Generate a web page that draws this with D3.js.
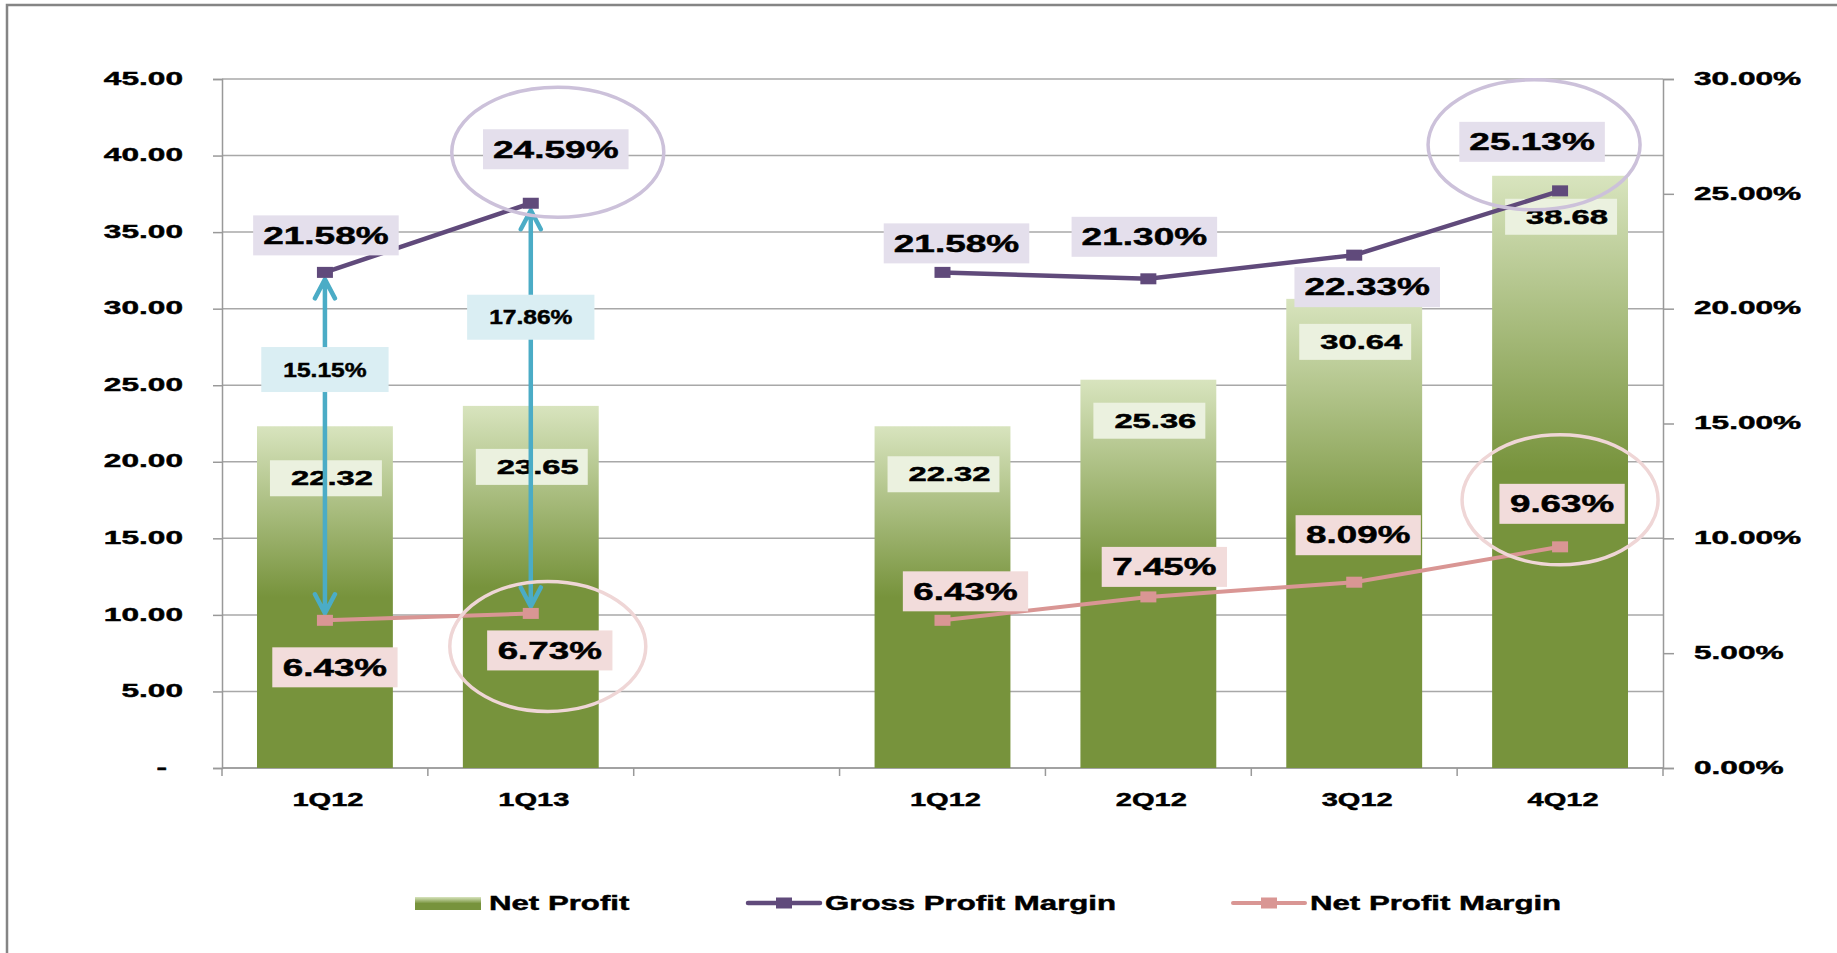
<!DOCTYPE html>
<html>
<head>
<meta charset="utf-8">
<script src="https://cdn.jsdelivr.net/npm/d3@7"></script>
<style>
body { margin: 0; background: #fff; }
text { font-family: "Liberation Sans", Arial, sans-serif; font-weight: bold; fill: #000; stroke: #000; stroke-width: 0.45px; }
</style>
</head>
<body>
<div class="canvas"></div>
<script>
// chart values
var quarters = ['1Q12', '1Q13', '', '1Q12', '2Q12', '3Q12', '4Q12'];
var netProfit = [22.32, 23.65, null, 22.32, 25.36, 30.64, 38.68];
var grossMargin = [0.2158, 0.2459, null, 0.2158, 0.2130, 0.2233, 0.2513];
var netMargin = [0.0643, 0.0673, null, 0.0643, 0.0745, 0.0809, 0.0963];
var leftTicks = [0, 5, 10, 15, 20, 25, 30, 35, 40, 45];
var rightTicks = [0, 0.05, 0.10, 0.15, 0.20, 0.25, 0.30];
var legendNames = ['Net Profit', 'Gross Profit Margin', 'Net Profit Margin'];
var circled = [1, 6];     // quarters with a ring round their labels
var arrowed = [0, 1];     // quarters with the gross-net spread arrow

// where the labels sit, relative to their point (px)
var grossNudge = [[1, -37], [25, -54], null, [14, -29], [-4, -42], [13, 32], [-28, -49]];
var netNudge = [[10, 47], [19, 37], null, [23, -29], [16, -30], [4, -47], [2, -43]];
var barNudge = [52, 61, null, 48, 41, 43, 41];

var width = 1837,
    height = 953,
    plot = { left: 222, right: 1663, top: 79, bottom: 768 };

var svg = d3.select('.canvas').append('svg')
    .attr('width', width)
    .attr('height', height);

// outer frame, only top and left show in the picture
svg.append('rect')
    .attr('x', 7).attr('y', 5)
    .attr('width', 3000).attr('height', 3000)
    .attr('fill', 'none')
    .attr('stroke', '#858585')
    .attr('stroke-width', 2.5);

var defs = svg.append('defs');
var grad = defs.append('linearGradient')
    .attr('id', 'barGrad')
    .attr('x1', 0).attr('y1', 0).attr('x2', 0).attr('y2', 1);
grad.append('stop').attr('offset', '0%').attr('stop-color', '#d8e4be');
grad.append('stop').attr('offset', '50%').attr('stop-color', '#77933c');
grad.append('stop').attr('offset', '100%').attr('stop-color', '#77933c');

var x = d3.scaleBand()
    .domain(d3.range(quarters.length))
    .range([plot.left, plot.right])
    .paddingInner(0.34)
    .paddingOuter(0.17);

var yL = d3.scaleLinear().domain([0, 45]).range([plot.bottom, plot.top]);
var yR = d3.scaleLinear().domain([0, 0.30]).range([plot.bottom, plot.top]);

function cx(i) { return x(i) + x.bandwidth() / 2; }

function stretch(sel, px, py, sx) {
    return sel.attr('transform', 'translate(' + px + ',' + py + ') scale(' + sx + ',1)');
}

// gridlines
svg.append('g').selectAll('line')
    .data(leftTicks)
    .enter()
    .append('line')
    .attr('x1', plot.left).attr('x2', plot.right)
    .attr('y1', function (d) { return yL(d); })
    .attr('y2', function (d) { return yL(d); })
    .attr('stroke', '#a8a8a8')
    .attr('stroke-width', 1.5);

// left axis
var leftAxis = svg.append('g').attr('transform', 'translate(' + plot.left + ',0)')
    .call(d3.axisLeft(yL).tickValues(leftTicks).tickSize(9).tickPadding(0)
        .tickFormat(function (d) { return d === 0 ? '-' : d3.format('.2f')(d); }));
leftAxis.select('.domain').attr('stroke', '#999').attr('stroke-width', 1.5);
leftAxis.selectAll('.tick line').attr('stroke', '#999').attr('stroke-width', 1.5);
leftAxis.selectAll('.tick text')
    .attr('x', null).attr('dy', '0.36em')
    .attr('font-size', 18.6)
    .attr('fill', null)
    .each(function (d) {
        stretch(d3.select(this), d === 0 ? -55 : -39, -1.5, 1.7);
    });
leftAxis.attr('font-family', null).attr('font-size', null);

// right axis
var rightAxis = svg.append('g').attr('transform', 'translate(' + plot.right + ',0)')
    .call(d3.axisRight(yR).tickValues(rightTicks).tickSize(11).tickPadding(0)
        .tickFormat(d3.format('.2%')));
rightAxis.select('.domain').attr('stroke', '#999').attr('stroke-width', 1.5);
rightAxis.selectAll('.tick line').attr('stroke', '#999').attr('stroke-width', 1.5);
rightAxis.selectAll('.tick text')
    .attr('x', null).attr('dy', '0.36em')
    .attr('font-size', 18.6)
    .attr('fill', null)
    .each(function () { stretch(d3.select(this), 31, -1.5, 1.7); });
rightAxis.attr('font-family', null).attr('font-size', null);

// x axis: line with ticks between the quarters
var xg = svg.append('g');
xg.append('line')
    .attr('x1', plot.left).attr('x2', plot.right)
    .attr('y1', plot.bottom).attr('y2', plot.bottom)
    .attr('stroke', '#999').attr('stroke-width', 1.5);
xg.selectAll('line.tk')
    .data(d3.range(quarters.length + 1))
    .enter()
    .append('line')
    .attr('class', 'tk')
    .attr('x1', function (i) { return plot.left + i * x.step(); })
    .attr('x2', function (i) { return plot.left + i * x.step(); })
    .attr('y1', plot.bottom).attr('y2', plot.bottom + 8)
    .attr('stroke', '#999').attr('stroke-width', 1.5);
xg.selectAll('text')
    .data(quarters)
    .enter()
    .append('text')
    .attr('text-anchor', 'middle')
    .attr('font-size', 19)
    .text(function (d) { return d; })
    .each(function (d, i) { stretch(d3.select(this), cx(i) + 3, 806, 1.53); });

// bars
var barIdx = d3.range(quarters.length).filter(function (i) { return netProfit[i] != null; });
svg.append('g').selectAll('rect')
    .data(barIdx)
    .enter()
    .append('rect')
    .attr('x', function (i) { return x(i); })
    .attr('width', x.bandwidth())
    .attr('y', function (i) { return yL(netProfit[i]); })
    .attr('height', function (i) { return plot.bottom - yL(netProfit[i]); })
    .attr('fill', 'url(#barGrad)');

// label with a filled box behind it
function boxLabel(g, px, py, txt, o) {
    var t = g.append('text')
        .attr('text-anchor', 'middle')
        .attr('dy', '0.36em')
        .attr('font-size', o.size)
        .text(txt);
    stretch(t, px + (o.tx || 0), py, o.sx);
    var w = t.node().getComputedTextLength() * o.sx + 2 * o.padX;
    g.insert('rect', function () { return t.node(); })
        .attr('x', px - w / 2).attr('y', py - o.h / 2)
        .attr('width', w).attr('height', o.h)
        .attr('fill', o.fill);
}

var barLabels = svg.append('g');
barIdx.forEach(function (i) {
    boxLabel(barLabels, cx(i) + 1, yL(netProfit[i]) + barNudge[i], d3.format('.2f')(netProfit[i]),
        { size: 19.5, sx: 1.68, padX: 15, h: 36, fill: '#ebf1df', tx: 6 });
});

// spread arrows from gross margin down to net margin
var arrows = svg.append('g');
arrowed.forEach(function (i) {
    var ax = cx(i),
        top = yR(grossMargin[i]) + 7,
        bot = yR(netMargin[i]) - 7;
    arrows.append('path')
        .attr('d', 'M' + ax + ',' + top + 'V' + bot +
            'M' + (ax - 10) + ',' + (top + 19) + 'L' + ax + ',' + top + 'L' + (ax + 10) + ',' + (top + 19) +
            'M' + (ax - 10) + ',' + (bot - 19) + 'L' + ax + ',' + bot + 'L' + (ax + 10) + ',' + (bot - 19))
        .attr('fill', 'none')
        .attr('stroke', '#4bacc6')
        .attr('stroke-width', 4.5)
        .attr('stroke-linejoin', 'round')
        .attr('stroke-linecap', 'round');
    boxLabel(arrows, ax, top + (bot - top) * 0.27, d3.format('.2%')(grossMargin[i] - netMargin[i]),
        { size: 19.5, sx: 1.26, padX: 22, h: 45, fill: '#daeef3' });
});

// margin lines
var idx = d3.range(quarters.length);
function drawLine(values, color, lw) {
    var line = d3.line()
        .defined(function (i) { return values[i] != null; })
        .x(function (i) { return cx(i); })
        .y(function (i) { return yR(values[i]); });
    svg.append('path')
        .datum(idx)
        .attr('d', line)
        .attr('fill', 'none')
        .attr('stroke', color)
        .attr('stroke-width', lw);
    svg.append('g').selectAll('rect')
        .data(idx.filter(function (i) { return values[i] != null; }))
        .enter()
        .append('rect')
        .attr('x', function (i) { return cx(i) - 8; })
        .attr('y', function (i) { return yR(values[i]) - 5.5; })
        .attr('width', 16).attr('height', 11)
        .attr('fill', color);
}
drawLine(grossMargin, '#604a7b', 4.5);
drawLine(netMargin, '#d99694', 4);

// margin labels
var marginLabels = svg.append('g');
idx.forEach(function (i) {
    if (grossMargin[i] == null) return;
    boxLabel(marginLabels, cx(i) + grossNudge[i][0], yR(grossMargin[i]) + grossNudge[i][1],
        d3.format('.2%')(grossMargin[i]),
        { size: 23, sx: 1.61, padX: 10, h: 40, fill: '#e4dfec' });
    boxLabel(marginLabels, cx(i) + netNudge[i][0], yR(netMargin[i]) + netNudge[i][1],
        d3.format('.2%')(netMargin[i]),
        { size: 23, sx: 1.6, padX: 10.5, h: 40, fill: '#f2dcdb' });
});

// rings round the highlighted labels
var rings = svg.append('g').attr('fill', 'none').attr('stroke-width', 3.5);
circled.forEach(function (i) {
    rings.append('ellipse')
        .attr('cx', cx(i) + grossNudge[i][0] + 2)
        .attr('cy', yR(grossMargin[i]) + grossNudge[i][1] + 3)
        .attr('rx', 106).attr('ry', 65)
        .attr('stroke', '#ccc1da');
    rings.append('ellipse')
        .attr('cx', cx(i) + netNudge[i][0] - 2)
        .attr('cy', yR(netMargin[i]) + netNudge[i][1] - 4)
        .attr('rx', 98).attr('ry', 65)
        .attr('stroke', '#efd6d6');
});

// legend
var legendX = [415, 748, 1233],
    legendY = 903;
var lg = svg.append('g');
lg.append('rect')
    .attr('x', legendX[0]).attr('y', legendY - 6)
    .attr('width', 66).attr('height', 13)
    .attr('fill', 'url(#barGrad)');
[['#604a7b', 4.5], ['#d99694', 4]].forEach(function (s, k) {
    var lx = legendX[k + 1];
    lg.append('line')
        .attr('x1', lx).attr('x2', lx + 72)
        .attr('y1', legendY).attr('y2', legendY)
        .attr('stroke', s[0]).attr('stroke-width', s[1])
        .attr('stroke-linecap', 'round');
    lg.append('rect')
        .attr('x', lx + 28).attr('y', legendY - 5.5)
        .attr('width', 16).attr('height', 11)
        .attr('fill', s[0]);
});
lg.selectAll('text')
    .data(legendNames)
    .enter()
    .append('text')
    .attr('font-size', 20)
    .text(function (d) { return d; })
    .each(function (d, k) {
        stretch(d3.select(this), legendX[k] + (k === 0 ? 74 : 77), legendY + 7, 1.56);
    });
</script>
</body>
</html>
